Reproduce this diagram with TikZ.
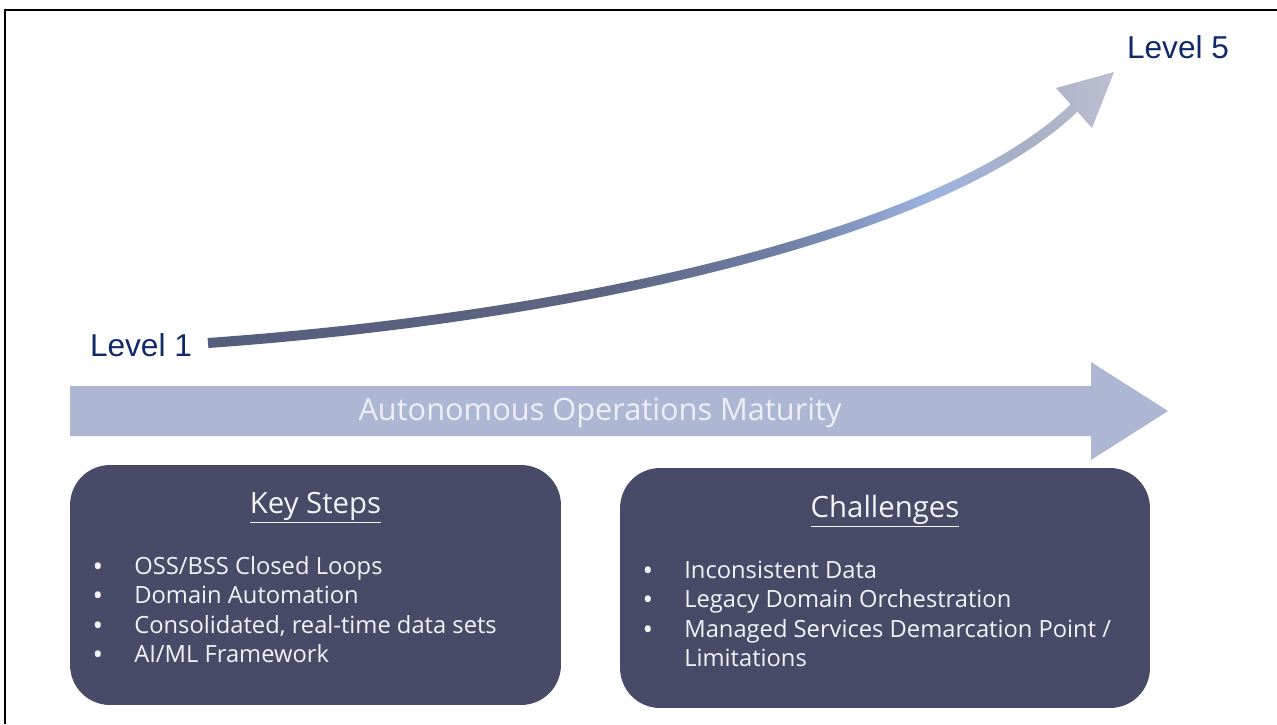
\documentclass[tikz,border=0pt]{standalone}
\usepackage{fontspec}
\setmainfont{Open Sans}
\newfontfamily\arialfont{Liberation Sans}
\usetikzlibrary{positioning}
\definecolor{navytext}{HTML}{10296B}
\definecolor{bandblue}{HTML}{ADB6D3}
\definecolor{panelfill}{HTML}{474B68}
\definecolor{paneltext}{HTML}{F4F4F7}
\definecolor{bandtext}{HTML}{EEF0F6}
\definecolor{curvea}{HTML}{555E7D}
\definecolor{curveb}{HTML}{5D6582}
\definecolor{curvec}{HTML}{7080A6}
\definecolor{curved}{HTML}{9DB3E0}
\definecolor{curvee}{HTML}{A9B0C6}
\definecolor{curvef}{HTML}{BBBFD0}
\pgfdeclarehorizontalshading{levelgrad}{100bp}{color(0bp)=(curvea); color(25bp)=(curvea);
  color(47bp)=(curveb); color(57bp)=(curvec); color(65bp)=(curved); color(70bp)=(curvee);
  color(75bp)=(curvef); color(100bp)=(curvef)}

\begin{document}
\begin{tikzpicture}[x=0.02cm, y=-0.02cm,
  lvl/.style={font=\arialfont\fontsize{18}{20}\selectfont, text=navytext, inner sep=0pt},
  panel/.style={rectangle, rounded corners=0.8cm, fill=panelfill},
  paneltitle/.style={anchor=base, font=\fontsize{16.7}{20}\selectfont, text=paneltext, inner sep=0pt},
  dotmark/.style={anchor=base, font=\fontsize{16}{18}\selectfont, text=paneltext, inner sep=0pt},
  itemtext/.style={anchor=base west, font=\fontsize{13.5}{16}\selectfont, text=paneltext, inner sep=0pt},
]
\useasboundingbox (0,0) rectangle (1277,724);

% Frame
\draw[line width=1.2pt] (5,724) -- (5,10) -- (1277,10);

% Levels
\node[lvl] (lvl1) at (141,345) {Level 1};
\node[lvl] (lvl5) at (1178,47) {Level 5};

% Curved maturity arrow (shaded band)
\coordinate (cstart) at (208,343);
\coordinate (ctip) at (1114,72);
\shade[shading=levelgrad]
  (207.6,338) .. controls (599.6,310) and (946.6,224.3) .. (1070.6,104.3)
  -- (1056,88) -- (ctip) -- (1092,128) -- (1077.4,111.7)
  .. controls (953.4,231.7) and (600.4,320) .. (208.4,348) -- cycle;

% Maturity band
\fill[bandblue] (70,386) -- (1091,386) -- (1091,362) -- (1168,411)
  -- (1091,460) -- (1091,436) -- (70,436) -- cycle;
\node[font=\fontsize{17.5}{20}\selectfont, text=bandtext, inner sep=0pt] (maturity) at (600,413) {Autonomous Operations Maturity};

% Key steps
\node[panel, minimum width=9.82cm, minimum height=4.8cm] (steps) at (315.5,585) {};
\node[paneltitle] (stepsttl) at (315.5,513) {\underline{Key Steps}};
\foreach \txt [count=\i] in {OSS/BSS Closed Loops, Domain Automation, {Consolidated, real-time data sets}, AI/ML Framework} {
  \node[dotmark] at (98,546.5+29.5*\i) {•};
  \node[itemtext] at (134,544.5+29.5*\i) {\txt};
}

% Challenges
\node[panel, minimum width=10.6cm, minimum height=4.8cm] (chall) at (885,588) {};
\node[paneltitle] (challttl) at (885,517) {\underline{Challenges}};
\foreach \txt [count=\i] in {Inconsistent Data, Legacy Domain Orchestration, Managed Services Demarcation Point /} {
  \node[dotmark] at (648,550.5+29.5*\i) {•};
  \node[itemtext] at (684,548.5+29.5*\i) {\txt};
}
\node[itemtext] (limits) at (684,666.5) {Limitations};

\end{tikzpicture}
\end{document}
